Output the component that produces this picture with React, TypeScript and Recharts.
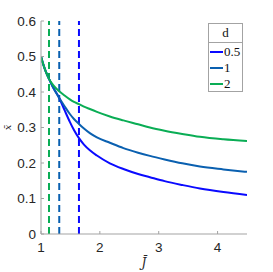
import {
  LineChart,
  Line,
  XAxis,
  YAxis,
  ReferenceLine,
  Legend,
} from "recharts";

// J-bar sample points
const jValues = [1, 1.04, 1.08, 1.136, 1.2, 1.31, 1.4, 1.49, 1.56, 1.645, 1.73, 1.83, 1.95, 2.17, 2.4, 2.65, 2.85, 3.1, 3.4, 3.7, 4.1, 4.5];

// x-bar for each d
const xD05 = [0.5, 0.477, 0.458, 0.437, 0.415, 0.383, 0.349, 0.316, 0.293, 0.27, 0.252, 0.236, 0.221, 0.199, 0.183, 0.169, 0.16, 0.149, 0.138, 0.128, 0.118, 0.11];
const xD1 = [0.5, 0.477, 0.458, 0.437, 0.415, 0.383, 0.36, 0.338, 0.324, 0.31, 0.297, 0.284, 0.272, 0.257, 0.242, 0.229, 0.22, 0.21, 0.199, 0.19, 0.182, 0.175];
const xD2 = [0.5, 0.477, 0.458, 0.437, 0.421, 0.402, 0.39, 0.379, 0.372, 0.366, 0.359, 0.352, 0.344, 0.331, 0.32, 0.309, 0.3, 0.291, 0.282, 0.274, 0.267, 0.262];

// critical J-bar for each d (dashed lines)
const critD05 = 1.645;
const critD1 = 1.31;
const critD2 = 1.136;

const xTicks = [1, 2, 3, 4];
const yTicks = [0, 0.1, 0.2, 0.3, 0.4, 0.5, 0.6];

const BLUE = "#0a0aff";
const DARKBLUE = "#0a60b0";
const GREEN = "#0aad55";
const AXIS = "#a3a3a3";

const chartData = jValues.map((j, i) => ({
  j,
  d05: xD05[i],
  d1: xD1[i],
  d2: xD2[i],
}));

const tickStyle = { fontSize: 13.5, fill: "#262626", fontFamily: "'Liberation Sans', Arial, sans-serif" };

// MATLAB-ish boxed legend with title
const LegendBox = (props: any) => {
  const items = props.payload || [];
  return (
    <div
      style={{
        width: 35,
        height: 69,
        border: `1px solid ${AXIS}`,
        background: "#fff",
        fontFamily: "'Liberation Serif', 'DejaVu Serif', serif",
        fontSize: 13,
        color: "#111",
        boxSizing: "border-box",
      }}
    >
      <div style={{ height: 18, lineHeight: "18px", textAlign: "center", borderBottom: `1px solid ${AXIS}` }}>d</div>
      <div style={{ paddingTop: 1 }}>
        {items.map((it: any) => (
          <div key={it.value} style={{ display: "flex", alignItems: "center", height: 16 }}>
            <span style={{ display: "inline-block", width: 13, height: 2, background: it.color, marginLeft: 1, marginRight: 1 }} />
            <span style={{ lineHeight: "16px" }}>{it.value}</span>
          </div>
        ))}
      </div>
    </div>
  );
};

export default function App() {
  return (
    <div style={{ position: "absolute", left: 0, top: 0, width: 273, height: 272, background: "#fff" }}>
      <LineChart width={273} height={272} data={chartData} margin={{ top: 21, right: 26, bottom: 0, left: 0 }}>
        <XAxis
          dataKey="j"
          type="number"
          domain={[1, 4.5]}
          ticks={xTicks}
          allowDataOverflow
          height={38}
          stroke={AXIS}
          tickSize={-3}
          tickMargin={11}
          tick={tickStyle}
          label={{
            value: "J\u0304",
            position: "insideBottom",
            offset: 5,
            style: { fontFamily: "'DejaVu Serif', serif", fontStyle: "italic", fontSize: 12, fill: "#262626" },
          }}
        />
        <XAxis
          xAxisId="top"
          dataKey="j"
          type="number"
          orientation="top"
          domain={[1, 4.5]}
          ticks={xTicks}
          height={0}
          stroke={AXIS}
          tickSize={-3}
          tickFormatter={() => ""}
        />
        <YAxis
          type="number"
          domain={[0, 0.6]}
          ticks={yTicks}
          width={41}
          stroke={AXIS}
          tickSize={-3}
          tickMargin={8}
          tick={tickStyle}
          label={{
            value: "x\u0304",
            angle: -90,
            position: "insideLeft",
            offset: 7,
            style: { fontFamily: "'DejaVu Serif', serif", fontStyle: "italic", fontSize: 10, fill: "#262626", textAnchor: "middle" },
          }}
        />
        <YAxis
          yAxisId="right"
          type="number"
          orientation="right"
          domain={[0, 0.6]}
          ticks={yTicks}
          width={0}
          stroke={AXIS}
          tickSize={-3}
          tickFormatter={() => ""}
        />
        <ReferenceLine x={critD2} stroke={GREEN} strokeWidth={2} strokeDasharray="7 4" />
        <ReferenceLine x={critD1} stroke={DARKBLUE} strokeWidth={2} strokeDasharray="7 4" />
        <ReferenceLine x={critD05} stroke={BLUE} strokeWidth={2} strokeDasharray="7 4" />
        <Line type="monotone" dataKey="d05" name="0.5" stroke={BLUE} strokeWidth={2} dot={false} isAnimationActive={false} />
        <Line type="monotone" dataKey="d1" name="1" stroke={DARKBLUE} strokeWidth={2} dot={false} isAnimationActive={false} />
        <Line type="monotone" dataKey="d2" name="2" stroke={GREEN} strokeWidth={2} dot={false} isAnimationActive={false} />
        <Legend
          layout="vertical"
          align="center"
          verticalAlign="middle"
          content={<LegendBox />}
          wrapperStyle={{ top: 23, left: 208, width: 35, height: 69 }}
        />
      </LineChart>
    </div>
  );
}
